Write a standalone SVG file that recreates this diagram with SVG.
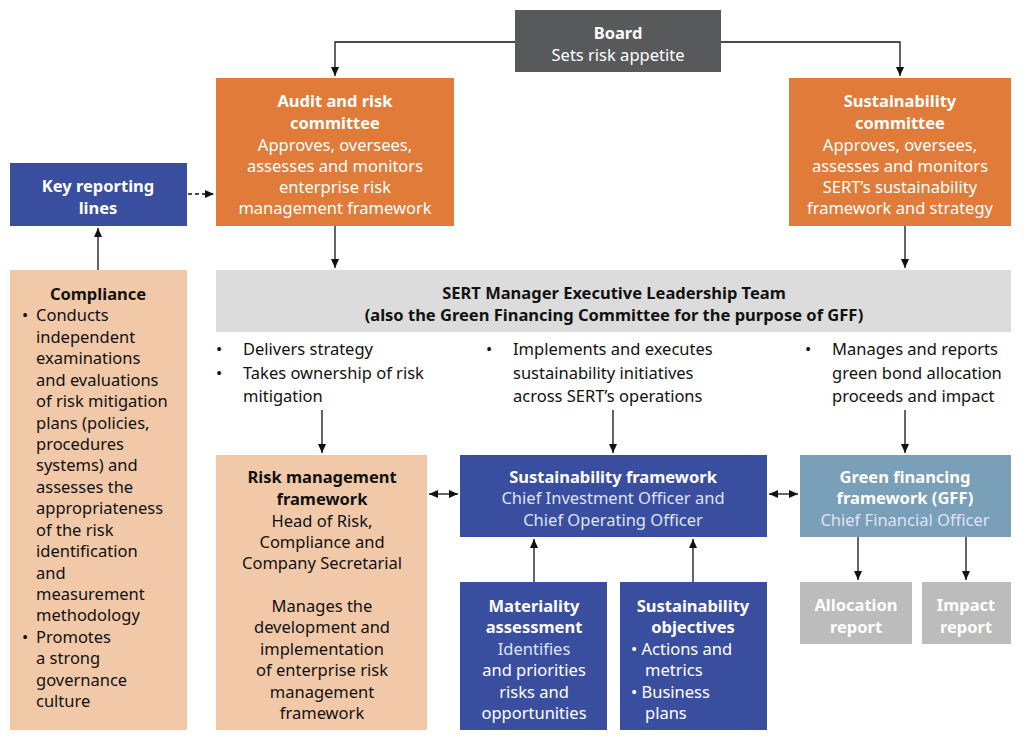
<svg xmlns="http://www.w3.org/2000/svg" width="1024" height="740" viewBox="0 0 1024 740">
<defs>
<marker id="a" markerWidth="10" markerHeight="10" refX="9" refY="5" orient="auto-start-reverse" markerUnits="userSpaceOnUse"><path d="M0,1 L9,5 L0,9 z" fill="#111"/></marker>
<style>
text{font-family:"Noto Sans","Open Sans",sans-serif;font-size:16.5px;text-anchor:middle}
.w{fill:#fff}.b{font-weight:bold}.d{fill:#111}.l{fill:#dfe3f3}
.s{text-anchor:start}
.c line,.c path{stroke:#111;stroke-width:1.3;fill:none}
</style>
</defs>
<rect width="1024" height="740" fill="#fff"/>
<g class="c">
<path d="M515,42 H335 V76" marker-end="url(#a)"/>
<path d="M721,42 H900 V76" marker-end="url(#a)"/>
<line x1="188" y1="194" x2="214" y2="194" stroke-dasharray="4,3" marker-end="url(#a)"/>
<line x1="98" y1="270" x2="98" y2="228" marker-end="url(#a)"/>
<line x1="335" y1="226" x2="335" y2="268" marker-end="url(#a)"/>
<line x1="905" y1="226" x2="905" y2="268" marker-end="url(#a)"/>
<line x1="322" y1="410" x2="322" y2="453" marker-end="url(#a)"/>
<line x1="613" y1="410" x2="613" y2="453" marker-end="url(#a)"/>
<line x1="905" y1="410" x2="905" y2="453" marker-end="url(#a)"/>
<line x1="429" y1="494" x2="458" y2="494" marker-start="url(#a)" marker-end="url(#a)"/>
<line x1="769" y1="494" x2="798" y2="494" marker-start="url(#a)" marker-end="url(#a)"/>
<line x1="534" y1="582" x2="534" y2="539" marker-end="url(#a)"/>
<line x1="693" y1="582" x2="693" y2="539" marker-end="url(#a)"/>
<line x1="858" y1="537" x2="858" y2="580" marker-end="url(#a)"/>
<line x1="966" y1="537" x2="966" y2="580" marker-end="url(#a)"/>
</g>
<g id="board"><rect x="515" y="10" width="206" height="62" fill="#58595b"/>
<text x="618" y="39" class="w b">Board</text><text x="618" y="61" class="w">Sets risk appetite</text></g>
<g id="audit"><rect x="216" y="78" width="238" height="148" fill="#e07b39"/>
<text x="335" y="107" class="w b">Audit and risk</text><text x="335" y="129" class="w b">committee</text>
<text x="335" y="151" class="w">Approves, oversees,</text><text x="335" y="172" class="w">assesses and monitors</text><text x="335" y="193" class="w">enterprise risk</text><text x="335" y="214" class="w">management framework</text></g>
<g id="sustcom"><rect x="789" y="78" width="222" height="148" fill="#e07b39"/>
<text x="900" y="107" class="w b">Sustainability</text><text x="900" y="129" class="w b">committee</text>
<text x="900" y="151" class="w">Approves, oversees,</text><text x="900" y="172" class="w">assesses and monitors</text><text x="900" y="193" class="w">SERT’s sustainability</text><text x="900" y="214" class="w">framework and strategy</text></g>
<g id="keylines"><rect x="10" y="163" width="177" height="63" fill="#3a4ea0"/>
<text x="98" y="192" class="w b">Key reporting</text><text x="98" y="214" class="w b">lines</text></g>
<g id="compliance"><rect x="10" y="270" width="177" height="460" fill="#f2c9a8"/>
<text x="98" y="300" class="d b">Compliance</text>
<g class="d">
<text x="22" y="321" class="s">•</text><text x="36" y="321" class="s">Conducts</text>
<text x="36" y="343" class="s">independent</text><text x="36" y="364" class="s">examinations</text><text x="36" y="386" class="s">and evaluations</text><text x="36" y="407" class="s">of risk mitigation</text><text x="36" y="429" class="s">plans (policies,</text><text x="36" y="450" class="s">procedures</text><text x="36" y="471" class="s">systems) and</text><text x="36" y="493" class="s">assesses the</text><text x="36" y="514" class="s">appropriateness</text><text x="36" y="536" class="s">of the risk</text><text x="36" y="557" class="s">identification</text><text x="36" y="579" class="s">and</text><text x="36" y="600" class="s">measurement</text><text x="36" y="621" class="s">methodology</text>
<text x="22" y="643" class="s">•</text><text x="36" y="643" class="s">Promotes</text><text x="36" y="664" class="s">a strong</text><text x="36" y="686" class="s">governance</text><text x="36" y="707" class="s">culture</text></g></g>
<g id="elt"><rect x="216" y="270" width="795" height="62" fill="#dcdcdc"/>
<text x="614" y="299" class="d b">SERT Manager Executive Leadership Team</text>
<text x="614" y="321" class="d b">(also the Green Financing Committee for the purpose of GFF)</text></g>
<g id="bullets" class="d">
<text x="216" y="355" class="s">•</text><text x="243" y="355" class="s">Delivers strategy</text>
<text x="216" y="379" class="s">•</text><text x="243" y="379" class="s">Takes ownership of risk</text><text x="243" y="402" class="s">mitigation</text>
<text x="486" y="355" class="s">•</text><text x="513" y="355" class="s">Implements and executes</text><text x="513" y="379" class="s">sustainability initiatives</text><text x="513" y="402" class="s">across SERT’s operations</text>
<text x="805" y="355" class="s">•</text><text x="832" y="355" class="s">Manages and reports</text><text x="832" y="379" class="s">green bond allocation</text><text x="832" y="402" class="s">proceeds and impact</text></g>
<g id="rmf"><rect x="216" y="455" width="211" height="275" fill="#f2c9a8"/>
<g class="d"><text x="322" y="483" class="b">Risk management</text><text x="322" y="505" class="b">framework</text>
<text x="322" y="527">Head of Risk,</text><text x="322" y="548">Compliance and</text><text x="322" y="569">Company Secretarial</text>
<text x="322" y="612">Manages the</text><text x="322" y="633">development and</text><text x="322" y="655">implementation</text><text x="322" y="676">of enterprise risk</text><text x="322" y="698">management</text><text x="322" y="719">framework</text></g></g>
<g id="sf"><rect x="460" y="455" width="307" height="82" fill="#3a4ea0"/>
<text x="613" y="483" class="w b">Sustainability framework</text><text x="613" y="504" class="l">Chief Investment Officer and</text><text x="613" y="526" class="l">Chief Operating Officer</text></g>
<g id="gff"><rect x="800" y="455" width="211" height="82" fill="#7a9fb8"/>
<text x="905" y="483" class="w b">Green financing</text><text x="905" y="504" class="w b">framework (GFF)</text><text x="905" y="526" class="l">Chief Financial Officer</text></g>
<g id="mat"><rect x="460" y="582" width="147" height="148" fill="#3a4ea0"/>
<text x="534" y="612" class="w b">Materiality</text><text x="534" y="633" class="w b">assessment</text><text x="534" y="655" class="l">Identifies</text><text x="534" y="676" class="w">and priorities</text><text x="534" y="698" class="w">risks and</text><text x="534" y="719" class="w">opportunities</text></g>
<g id="obj"><rect x="620" y="582" width="147" height="148" fill="#3a4ea0"/>
<text x="693" y="612" class="w b">Sustainability</text><text x="693" y="633" class="w b">objectives</text>
<text x="631" y="655" class="w s">• Actions and</text><text x="645" y="676" class="w s">metrics</text><text x="631" y="698" class="w s">• Business</text><text x="645" y="719" class="w s">plans</text></g>
<g id="alloc"><rect x="800" y="582" width="112" height="62" fill="#bcbcbc"/>
<text x="856" y="611" class="w b">Allocation</text><text x="856" y="633" class="w b">report</text></g>
<g id="impact"><rect x="922" y="582" width="89" height="62" fill="#bcbcbc"/>
<text x="966" y="611" class="w b">Impact</text><text x="966" y="633" class="w b">report</text></g>
</svg>
